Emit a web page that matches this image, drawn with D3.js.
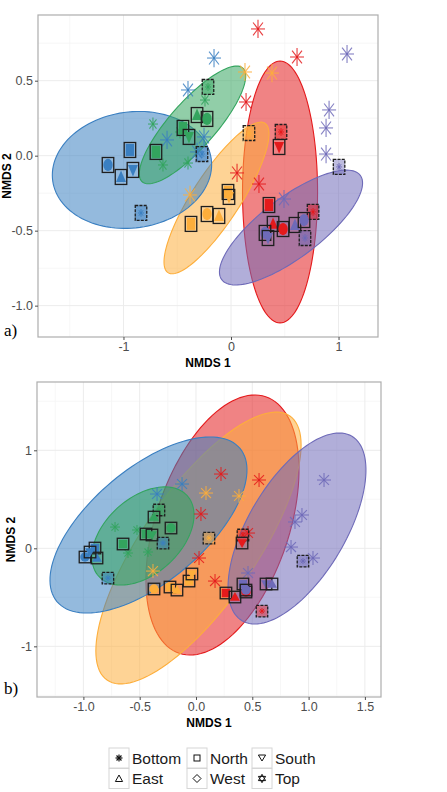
<!DOCTYPE html>
<html><head><meta charset="utf-8">
<script src="https://cdn.jsdelivr.net/npm/d3@7"></script>
<style>body{margin:0;background:#fff}svg{display:block}</style>
</head><body><svg id="c" width="447" height="792"></svg>
<script>
// ---------- data ----------
const groupNames = ["G1","G2","G3","G4","G5"];
const groupColors = ["#3a7fc1","#33a45e","#e41a1c","#fdae3b","#6e6ab8"];
const positions = ["Bottom","North","South","East","West","Top"];

// panel a) points: [group, position, NMDS1, NMDS2]
const pointsA = [
  ["G1","West",-1.144,-0.062],["G1","East",-1.023,-0.142],["G1","South",-0.912,-0.095],
  ["G1","North",-0.940,0.038],["G1","Top",-0.270,0.011],["G1","Top",-0.837,-0.382],
  ["G1","Bottom",-0.158,0.651],["G1","Bottom",-0.400,0.438],["G1","Bottom",-0.595,0.105],
  ["G1","Bottom",-0.251,0.125],["G1","Bottom",-0.316,0.025],
  ["G2","Top",-0.214,0.458],["G2","East",-0.316,0.271],["G2","West",-0.223,0.245],
  ["G2","North",-0.447,0.185],["G2","South",-0.391,0.125],["G2","North",-0.698,0.025],
  ["G2","Bottom",-0.726,0.211],["G2","Bottom",-0.242,0.371],["G2","Bottom",-0.633,-0.062],
  ["G2","Bottom",-0.400,-0.049],["G2","Bottom",-0.474,0.158],
  ["G3","Top",0.465,0.158],["G3","South",0.447,0.058],["G3","North",0.353,-0.329],
  ["G3","East",0.391,-0.455],["G3","West",0.484,-0.489],["G3","Top",0.763,-0.375],
  ["G3","Bottom",0.251,0.845],["G3","Bottom",0.614,0.658],["G3","Bottom",0.140,0.358],
  ["G3","Bottom",0.056,-0.115],["G3","Bottom",0.260,-0.189],
  ["G4","Top",0.167,0.151],["G4","North",-0.028,-0.242],["G4","South",-0.019,-0.275],
  ["G4","West",-0.223,-0.389],["G4","East",-0.112,-0.402],["G4","North",-0.372,-0.455],
  ["G4","Bottom",0.130,0.558],["G4","Bottom",0.381,0.551],["G4","Bottom",-0.381,-0.262],
  ["G5","Top",1.005,-0.075],["G5","West",0.316,-0.515],["G5","South",0.344,-0.549],
  ["G5","East",0.595,-0.462],["G5","West",0.679,-0.429],["G5","Top",0.688,-0.549],
  ["G5","Bottom",1.079,0.678],["G5","Bottom",0.912,0.305],["G5","Bottom",0.884,0.185],
  ["G5","Bottom",0.884,0.011],["G5","Bottom",0.493,-0.289]
];
// panel b) points
const pointsB = [
  ["G1","West",-0.986,-0.089],["G1","North",-0.897,0.003],["G1","East",-0.879,-0.099],
  ["G1","South",-0.941,-0.038],["G1","Top",-0.782,-0.304],["G1","Top",-0.293,0.054],
  ["G1","Bottom",-0.124,0.656],["G1","Bottom",-0.346,0.554],
  ["G2","Top",-0.329,0.391],["G2","East",-0.373,0.319],["G2","North",-0.444,0.146],
  ["G2","South",-0.391,0.136],["G2","West",-0.222,0.207],["G2","North",-0.648,0.044],
  ["G2","Bottom",-0.719,0.217],["G2","Bottom",-0.524,0.187],["G2","Bottom",-0.604,-0.048],
  ["G2","Bottom",-0.426,-0.038],
  ["G3","Top",0.417,0.136],["G3","South",0.409,0.054],["G3","North",0.266,-0.456],
  ["G3","East",0.346,-0.497],["G3","West",0.444,-0.446],["G3","Top",0.586,-0.640],
  ["G3","Bottom",0.222,0.758],["G3","Bottom",0.560,0.697],["G3","Bottom",0.044,0.350],
  ["G3","Bottom",0.027,-0.099],["G3","Bottom",0.169,-0.334],["G3","Bottom",0.462,0.156],
  ["G4","Top",0.115,0.105],["G4","West",-0.373,-0.415],["G4","North",-0.231,-0.395],
  ["G4","East",-0.169,-0.426],["G4","North",-0.062,-0.334],["G4","South",-0.036,-0.262],
  ["G4","Bottom",0.089,0.564],["G4","Bottom",0.382,0.534],["G4","Bottom",-0.382,-0.232],
  ["G5","North",0.417,-0.364],["G5","West",0.444,-0.426],["G5","South",0.622,-0.364],
  ["G5","East",0.675,-0.364],["G5","Top",0.950,-0.130],
  ["G5","Bottom",1.137,0.697],["G5","Bottom",0.941,0.340],["G5","Bottom",0.879,0.269],
  ["G5","Bottom",0.844,0.013],["G5","Bottom",1.039,-0.099],["G5","Bottom",0.462,-0.252]
];
// ellipses: [group, centre1, centre2, axis1 (d1,d2), axis2 (d1,d2)] in NMDS units
const ellipsesA = [
  ["G3",0.456,-0.242,0,0.873,0.349,0],
  ["G4",-0.135,-0.282,0.451,0.498,-0.187,0.087],
  ["G1",-0.921,-0.095,0.737,0.074,-0.075,0.383],
  ["G2",-0.358,0.205,0.468,0.379,-0.160,0.102],
  ["G5",0.558,-0.479,0.644,0.348,-0.168,0.160]
];
const ellipsesB = [
  ["G3",0.235,0.238,0.384,1.309,-0.561,0.217],
  ["G4",0.022,0.003,0.812,1.347,-0.414,0.330],
  ["G1",-0.422,0.238,0.813,0.781,-0.323,0.444],
  ["G2",-0.471,0.126,0.393,0.411,-0.226,0.286],
  ["G5",0.897,0.202,0.488,0.941,-0.370,0.253]
];
const xTicksA = [-1,0,1], xLabelsA = ["-1","0","1"];
const yTicksA = [-1,-0.5,0,0.5], yLabelsA = ["-1.0","-0.5","0.0","0.5"];
const xTicksB = [-1,-0.5,0,0.5,1,1.5], xLabelsB = ["-1.0","-0.5","0.0","0.5","1.0","1.5"];
const yTicksB = [-1,0,1], yLabelsB = ["-1","0","1"];
const legendItems = ["Bottom","North","South","East","West","Top"];

// ---------- drawing ----------
const svg = d3.select("#c");
const color = d3.scaleOrdinal(groupNames, groupColors);
const FONT = "'Liberation Sans', Arial, sans-serif";

function panel(cfg){
  const {L,R,T,B,xd,yd,pts,ells,xt,xl,yt,yl,ky,tag,tagY,ytitleX,id} = cfg;
  const x = d3.scaleLinear().domain(xd).range([L,R]);
  const y = d3.scaleLinear().domain(yd).range([B,T]);
  const g = svg.append("g");
  g.append("clipPath").attr("id","clip"+id).append("rect")
    .attr("x",L).attr("y",T).attr("width",R-L).attr("height",B-T);
  g.append("rect").attr("x",L).attr("y",T).attr("width",R-L).attr("height",B-T).attr("fill","#fff");
  // minor grid
  const xminor = xt.slice(0,-1).map((v,i)=>(v+xt[i+1])/2);
  xminor.unshift(xt[0]-(xt[1]-xt[0])/2); xminor.push(xt[xt.length-1]+(xt[1]-xt[0])/2);
  const yminor = yt.slice(0,-1).map((v,i)=>(v+yt[i+1])/2);
  yminor.unshift(yt[0]-(yt[1]-yt[0])/2); yminor.push(yt[yt.length-1]+(yt[1]-yt[0])/2);
  const grid = g.append("g").attr("clip-path",`url(#clip${id})`);
  xminor.forEach(v=>grid.append("line").attr("x1",x(v)).attr("x2",x(v)).attr("y1",T).attr("y2",B).attr("stroke","#f5f5f5").attr("stroke-width",0.8));
  yminor.forEach(v=>grid.append("line").attr("y1",y(v)).attr("y2",y(v)).attr("x1",L).attr("x2",R).attr("stroke","#f5f5f5").attr("stroke-width",0.8));
  xt.forEach(v=>grid.append("line").attr("x1",x(v)).attr("x2",x(v)).attr("y1",T).attr("y2",B).attr("stroke","#ececec").attr("stroke-width",1));
  yt.forEach(v=>grid.append("line").attr("y1",y(v)).attr("y2",y(v)).attr("x1",L).attr("x2",R).attr("stroke","#ececec").attr("stroke-width",1));
  // ellipses
  const line = d3.line().curve(d3.curveLinearClosed);
  const eg = g.append("g").attr("clip-path",`url(#clip${id})`);
  ells.forEach(e=>{
    const [grp,cx,cy,ax,ay,bx,by] = e;
    const ptsE = d3.range(0,120).map(i=>{
      const t = i/120*2*Math.PI;
      return [x(cx+ax*Math.cos(t)+bx*Math.sin(t)), y(cy+ay*Math.cos(t)+by*Math.sin(t))];
    });
    eg.append("path").attr("d",line(ptsE)).attr("fill",color(grp)).attr("fill-opacity",0.54)
      .attr("stroke",color(grp)).attr("stroke-width",1.1);
  });
  // points: bottom (asterisks) first
  const pg = g.append("g");
  const star = (sel,cx,cy,r,rk,col,w,op)=>{
    [0,45,90,135].forEach(a=>{
      const dx = r*Math.cos(a*Math.PI/180), dy = r*rk*Math.sin(a*Math.PI/180);
      sel.append("line").attr("x1",cx-dx).attr("x2",cx+dx).attr("y1",cy-dy).attr("y2",cy+dy)
        .attr("stroke",col).attr("stroke-width",w).attr("stroke-opacity",op);
    });
  };
  pts.filter(p=>p[1]==="Bottom").forEach(p=>{
    const cx=x(p[2]), cy=y(p[3]);
    const r = p[0]==="G2" ? 5 : 7;
    star(pg,cx,cy,r,ky,color(p[0]),1.1,0.85);
  });
  const bw = 11.5, bh = 11.5*ky;
  pts.filter(p=>p[1]!=="Bottom").forEach(p=>{
    const cx=x(p[2]), cy=y(p[3]), c=color(p[0]);
    const s = pg.append("g").attr("transform",`translate(${cx},${cy})`);
    if(p[1]==="North"){
      s.append("rect").attr("x",-bw/2+1.5).attr("y",-bh/2+1.5).attr("width",bw-3).attr("height",bh-3).attr("fill",c);
    } else if(p[1]==="East"){
      s.append("path").attr("d",`M0,${-5*ky}L5,${3.8*ky}L-5,${3.8*ky}Z`).attr("fill",c);
    } else if(p[1]==="South"){
      s.append("path").attr("d",`M0,${5*ky}L5,${-3.8*ky}L-5,${-3.8*ky}Z`).attr("fill",c);
    } else if(p[1]==="West"){
      s.append("ellipse").attr("rx",4.7).attr("ry",4.7*ky).attr("fill",c);
    } else {
      s.append("rect").attr("x",-bw/2).attr("y",-bh/2).attr("width",bw).attr("height",bh).attr("fill",c).attr("fill-opacity",0.45);
      star(s,0,0,3,ky,c,1,0.9);
    }
    s.append("rect").attr("x",-bw/2).attr("y",-bh/2).attr("width",bw).attr("height",bh)
      .attr("fill","none").attr("stroke","#1e1e1e").attr("stroke-width",1.3)
      .attr("stroke-dasharray", p[1]==="Top" ? "3,1.2" : null);
  });
  // border
  g.append("rect").attr("x",L).attr("y",T).attr("width",R-L).attr("height",B-T)
    .attr("fill","none").attr("stroke","#adadad").attr("stroke-width",1.2);
  // axes
  const ax = g.append("g").attr("transform",`translate(0,${B})`)
    .call(d3.axisBottom(x).tickValues(xt).tickFormat((d,i)=>xl[i]).tickSize(3).tickPadding(2));
  const ay = g.append("g").attr("transform",`translate(${L},0)`)
    .call(d3.axisLeft(y).tickValues(yt).tickFormat((d,i)=>yl[i]).tickSize(3).tickPadding(2));
  [ax,ay].forEach(a=>{
    a.select(".domain").remove();
    a.selectAll("line").attr("stroke","#4d4d4d");
    a.selectAll("text").attr("fill","#4d4d4d").style("font-family",FONT).style("font-size","12.5px");
  });
  g.append("text").attr("x",(L+R)/2).attr("y",B+30).attr("text-anchor","middle")
    .style("font-family",FONT).style("font-size","12px").style("font-weight","bold").text("NMDS 1");
  g.append("text").attr("transform",`translate(${ytitleX},${(T+B)/2}) rotate(-90)`).attr("text-anchor","middle")
    .style("font-family",FONT).style("font-size","12px").style("font-weight","bold").text("NMDS 2");
  g.append("text").attr("x",4).attr("y",tagY)
    .style("font-family","'Liberation Serif','Times New Roman',serif").style("font-size","17px").text(tag);
}

panel({id:"a",L:38,R:378,T:15,B:337,xd:[-1.795,1.367],yd:[-1.209,0.938],pts:pointsA,ells:ellipsesA,
  xt:xTicksA,xl:xLabelsA,yt:yTicksA,yl:yLabelsA,ky:1.3,tag:"a)",tagY:336,ytitleX:11});
panel({id:"b",L:37,R:381,T:382,B:697,xd:[-1.412,1.643],yd:[-1.517,1.697],pts:pointsB,ells:ellipsesB,
  xt:xTicksB,xl:xLabelsB,yt:yTicksB,yl:yLabelsB,ky:1,tag:"b)",tagY:694,ytitleX:15});

// legend
const colX = [109,187,252], rowY = [748,768.5];
const lg = svg.append("g");
legendItems.forEach((name,i)=>{
  const cx = colX[i%3], cy = rowY[Math.floor(i/3)];
  lg.append("rect").attr("x",cx).attr("y",cy).attr("width",20).attr("height",20)
    .attr("fill","#fff").attr("stroke","#d6d6d6").attr("stroke-width",1);
  const mx = cx+10, my = cy+10;
  const k = lg.append("g").attr("transform",`translate(${mx},${my})`);
  if(name==="Bottom"){
    [0,45,90,135].forEach(a=>{const dx=3.5*Math.cos(a*Math.PI/180),dy=3.5*Math.sin(a*Math.PI/180);
      k.append("line").attr("x1",-dx).attr("x2",dx).attr("y1",-dy).attr("y2",dy).attr("stroke","#111").attr("stroke-width",1.2);});
  } else if(name==="North"){
    k.append("rect").attr("x",-3).attr("y",-3).attr("width",6).attr("height",6).attr("fill","none").attr("stroke","#111").attr("stroke-width",1);
  } else if(name==="South"){
    k.append("path").attr("d","M0,3L3.6,-3L-3.6,-3Z").attr("fill","none").attr("stroke","#111").attr("stroke-width",1);
  } else if(name==="East"){
    k.append("path").attr("d","M0,-3.5L3.6,3L-3.6,3Z").attr("fill","none").attr("stroke","#111").attr("stroke-width",1);
  } else if(name==="West"){
    k.append("path").attr("d","M0,-4L4,0L0,4L-4,0Z").attr("fill","none").attr("stroke","#111").attr("stroke-width",1);
  } else {
    k.append("path").attr("d","M0,-4.2L3.6,2.1L-3.6,2.1Z M0,4.2L3.6,-2.1L-3.6,-2.1Z").attr("fill","none").attr("stroke","#111").attr("stroke-width",1);
  }
  lg.append("text").attr("x",cx+23).attr("y",my+5.5).style("font-family",FONT).style("font-size","15.5px")
    .attr("fill","#1a1a1a").text(name);
});
</script></body></html>
